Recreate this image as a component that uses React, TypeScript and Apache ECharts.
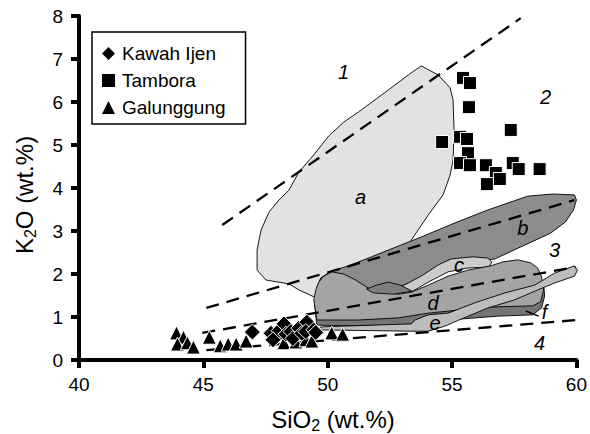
import React, { useEffect, useRef } from "react";
import * as echarts from "echarts";

const FONT = "'Liberation Sans', Arial, Helvetica, sans-serif";

// SiO2 axis ticks and K2O axis ticks
const X_TICKS = [40, 45, 50, 55, 60];
const Y_TICKS = [0, 1, 2, 3, 4, 5, 6, 7, 8];

// Sample data [SiO2, K2O]
const KAWAH_IJEN = [
  [46.97, 0.65], [47.72, 0.62], [47.96, 0.55], [48.04, 0.68], [48.24, 0.84],
  [48.32, 0.6], [48.52, 0.66], [48.6, 0.5], [48.84, 0.74], [48.96, 0.62],
  [49.16, 0.88], [49.12, 0.66], [49.44, 0.7], [49.52, 0.64], [47.8, 0.47],
];
const TAMBORA = [
  [55.44, 6.56], [55.72, 6.44], [55.68, 5.88], [54.6, 5.07], [55.32, 5.19],
  [55.6, 5.14], [57.36, 5.35], [55.64, 4.81], [55.32, 4.58], [55.72, 4.53],
  [56.36, 4.53], [56.76, 4.35], [56.92, 4.21], [56.4, 4.09], [57.44, 4.58],
  [57.68, 4.44], [58.52, 4.44],
];
const GALUNGGUNG = [
  [43.92, 0.63], [44.2, 0.53], [43.96, 0.37], [44.36, 0.4], [44.6, 0.3],
  [45.24, 0.53], [45.68, 0.33], [46.0, 0.37], [46.32, 0.37], [46.72, 0.44],
  [48.24, 0.4], [48.72, 0.42], [49.12, 0.47], [49.36, 0.44], [50.16, 0.63],
  [50.6, 0.6],
];

// Compositional fields (outlines in SiO2 / K2O units)
const FIELD_A = [
  [53.76, 6.84], [54.44, 6.63], [54.92, 6.33], [55.04, 6.05], [55.08, 5.35],
  [55.04, 4.65], [54.92, 4.3], [54.64, 3.84], [54.04, 3.37], [53.36, 2.79],
  [52.84, 2.09], [52.04, 1.74], [50.44, 1.58], [49.44, 1.47], [48.84, 1.63],
  [48.44, 1.77], [47.52, 1.86], [47.16, 2.09], [47.16, 2.56], [47.32, 3.02],
  [47.64, 3.44], [48.04, 3.72], [48.44, 3.95], [48.84, 4.37], [49.44, 4.77],
  [50.04, 5.21], [50.64, 5.53], [51.24, 5.77], [52.44, 6.28], [53.24, 6.63],
];
const FIELD_B = [
  [49.72, 1.4], [49.56, 1.67], [49.72, 1.91], [50.16, 2.07], [50.84, 2.19],
  [51.76, 2.4], [52.84, 2.65], [53.76, 2.86], [55.12, 3.19], [56.44, 3.49],
  [58.04, 3.81], [59.04, 3.86], [59.92, 3.84], [60.0, 3.72], [59.88, 3.49],
  [59.56, 3.21], [58.96, 2.95], [57.76, 2.63], [56.72, 2.35], [55.64, 2.28],
  [54.64, 2.14], [53.64, 1.86], [52.84, 1.7], [51.64, 1.51], [50.44, 1.4],
];
const FIELD_C = [
  [52.64, 1.63], [53.24, 1.79], [53.84, 1.98], [54.44, 2.21], [54.96, 2.35],
  [55.84, 2.4], [56.44, 2.37], [56.6, 2.28], [56.48, 2.16], [55.64, 2.14],
  [54.84, 2.05], [54.04, 1.81], [53.36, 1.58],
];
const FIELD_F = [
  [49.48, 1.28], [49.56, 0.81], [50.44, 0.8], [52.04, 0.79], [53.44, 0.81],
  [54.84, 0.93], [56.84, 1.02], [58.24, 1.05], [58.6, 1.21], [58.72, 1.49],
  [58.68, 1.79], [56.84, 1.63], [52.84, 1.44],
];
const FIELD_D = [
  [49.56, 0.93], [49.44, 1.4], [49.52, 1.63], [49.64, 1.81], [49.84, 1.95],
  [50.16, 2.05], [50.64, 2.0], [51.12, 1.86], [51.64, 1.67], [52.24, 1.58],
  [52.84, 1.53], [53.36, 1.58], [54.04, 1.74], [54.84, 1.95], [55.64, 2.09],
  [56.56, 2.19], [57.04, 2.28], [57.64, 2.33], [58.16, 2.26], [58.44, 2.14],
  [58.6, 1.93], [58.68, 1.63], [58.56, 1.35], [58.24, 1.26], [56.44, 1.23],
  [55.24, 1.16], [54.04, 1.09], [52.84, 0.98], [51.24, 0.93],
];
const FIELD_D_PATCH = [
  [51.56, 1.65], [51.96, 1.74], [52.44, 1.81], [52.92, 1.74], [53.4, 1.6],
  [52.64, 1.53], [51.84, 1.56],
];
const FIELD_E = [
  [60.04, 2.09], [59.92, 2.19], [59.12, 2.02], [58.32, 1.74], [57.12, 1.56],
  [55.92, 1.33], [54.84, 1.09], [54.04, 1.05], [53.52, 0.93], [53.36, 0.84],
  [49.72, 0.77], [49.72, 0.7], [53.36, 0.67], [54.04, 0.67], [54.72, 0.79],
  [55.36, 0.95], [56.44, 1.21], [57.52, 1.4], [58.32, 1.6], [59.12, 1.79],
  [59.92, 1.95],
];

const FIELDS = [
  { pts: FIELD_A, color: "#e2e2e2" },
  { pts: FIELD_B, color: "#8c8c8c" },
  { pts: FIELD_C, color: "#cbcbcb" },
  { pts: FIELD_F, color: "#757575" },
  { pts: FIELD_D, color: "#a4a4a4" },
  { pts: FIELD_D_PATCH, color: "#7e7e7e" },
  { pts: FIELD_E, color: "#bdbdbd" },
];

// Dashed series boundaries
const BOUNDARIES = [
  [[45.76, 3.14], [57.76, 7.95]],
  [[45.12, 1.21], [59.92, 3.72]],
  [[44.96, 0.63], [59.96, 2.16]],
  [[45.12, 0.23], [60.04, 0.93]],
];

// Field / series labels [SiO2, K2O, text]
const LABELS: [number, number, string][] = [
  [50.64, 6.7, "1"], [58.76, 6.12, "2"], [59.12, 2.56, "3"], [58.52, 0.4, "4"],
  [51.32, 3.79, "a"], [57.84, 3.07, "b"], [55.28, 2.21, "c"], [54.24, 1.33, "d"],
  [54.32, 0.86, "e"], [58.72, 1.12, "f"],
];
const F_LEADER = [[57.96, 1.14], [58.48, 1.02]];

export default function App() {
  const ref = useRef<HTMLDivElement>(null);
  useEffect(() => {
    if (!ref.current) return;
    const chart = echarts.init(ref.current, undefined, { renderer: "svg" });
    const series: any[] = [];
    series.push({
      type: "custom",
      name: "fields",
      z: 1,
      silent: true,
      data: FIELDS.map(() => [50, 4]),
      renderItem: (params: any, api: any) => {
        const f = FIELDS[params.dataIndex];
        return {
          type: "polygon",
          shape: { points: f.pts.map((p) => api.coord(p)) },
          style: { fill: f.color, stroke: "#000", lineWidth: 0.9 },
        };
      },
    });
    BOUNDARIES.forEach((b, i) => {
      series.push({
        type: "line",
        name: "boundary" + i,
        z: 3,
        data: b,
        symbol: "none",
        silent: true,
        lineStyle: { color: "#000", width: 2.3, type: [13, 8] },
      });
    });
    series.push({
      type: "custom",
      name: "labels",
      z: 4,
      silent: true,
      data: LABELS.map((l) => [l[0], l[1]]),
      renderItem: (params: any, api: any) => {
        const l = LABELS[params.dataIndex];
        const c = api.coord([l[0], l[1]]);
        const children: any[] = [
          {
            type: "text",
            x: c[0],
            y: c[1],
            style: {
              text: l[2],
              fill: "#000",
              font: `italic 20px ${FONT}`,
              align: "center",
              verticalAlign: "middle",
            },
          },
        ];
        if (l[2] === "f") {
          const p1 = api.coord(F_LEADER[0]);
          const p2 = api.coord(F_LEADER[1]);
          children.push({
            type: "line",
            shape: { x1: p1[0], y1: p1[1], x2: p2[0], y2: p2[1] },
            style: { stroke: "#000", lineWidth: 1.5 },
          });
        }
        return { type: "group", children };
      },
    });
    const pointStyle = { color: "#000", borderColor: "#fff", borderWidth: 1, opacity: 1 };
    series.push({
      type: "scatter", name: "Galunggung", z: 5, data: GALUNGGUNG,
      symbol: "triangle", symbolSize: 14, itemStyle: pointStyle,
    });
    series.push({
      type: "scatter", name: "Kawah Ijen", z: 6, data: KAWAH_IJEN,
      symbol: "diamond", symbolSize: 16, itemStyle: pointStyle,
    });
    series.push({
      type: "scatter", name: "Tambora", z: 6, data: TAMBORA,
      symbol: "rect", symbolSize: 13, itemStyle: pointStyle,
    });

    chart.setOption({
      animation: false,
      backgroundColor: "#fff",
      grid: { left: 79, right: 11, top: 16, bottom: 74 },
      legend: {
        data: [
          { name: "Kawah Ijen", icon: "diamond" },
          { name: "Tambora", icon: "rect" },
          { name: "Galunggung", icon: "triangle" },
        ],
        orient: "vertical",
        left: 92,
        top: 32,
        itemWidth: 13,
        itemHeight: 13,
        itemGap: 8,
        padding: [12, 20, 7, 10],
        borderColor: "#000",
        borderWidth: 1.5,
        borderRadius: 0,
        backgroundColor: "#fff",
        itemStyle: { color: "#000", borderWidth: 0, opacity: 1 },
        textStyle: { fontSize: 19, color: "#000", fontFamily: FONT, padding: [0, 0, 0, 2] },
        selectedMode: false,
      },
      xAxis: {
        type: "value",
        min: X_TICKS[0],
        max: X_TICKS[X_TICKS.length - 1],
        interval: 5,
        splitLine: { show: false },
        axisLine: { lineStyle: { color: "#000", width: 4 } },
        axisTick: { inside: false, length: 8, lineStyle: { color: "#000", width: 4 } },
        axisLabel: { color: "#000", fontSize: 19, fontFamily: FONT, margin: 15 },
      },
      yAxis: {
        type: "value",
        min: Y_TICKS[0],
        max: Y_TICKS[Y_TICKS.length - 1],
        interval: 1,
        splitLine: { show: false },
        axisLine: { lineStyle: { color: "#000", width: 4 } },
        axisTick: { inside: false, length: 8, lineStyle: { color: "#000", width: 4 } },
        axisLabel: { color: "#000", fontSize: 19, fontFamily: FONT, margin: 16 },
      },
      graphic: [
        {
          type: "text",
          x: 333,
          y: 419,
          style: {
            text: "{n|SiO}{s|2}{n| (wt.%)}",
            align: "center",
            verticalAlign: "middle",
            fill: "#000",
            rich: {
              n: { fontSize: 24, fontFamily: FONT, fill: "#000" },
              s: { fontSize: 16, fontFamily: FONT, fill: "#000", padding: [12, 0, 0, 0] },
            },
          },
        },
        {
          type: "text",
          x: 24,
          y: 195,
          rotation: Math.PI / 2,
          style: {
            text: "{n|K}{s|2}{n|O (wt.%)}",
            align: "center",
            verticalAlign: "middle",
            fill: "#000",
            rich: {
              n: { fontSize: 24, fontFamily: FONT, fill: "#000" },
              s: { fontSize: 16, fontFamily: FONT, fill: "#000", padding: [12, 0, 0, 0] },
            },
          },
        },
      ],
      series,
    });
    return () => chart.dispose();
  }, []);
  return <div ref={ref} style={{ width: 590, height: 434, position: "absolute", left: 0, top: 0 }} />;
}
